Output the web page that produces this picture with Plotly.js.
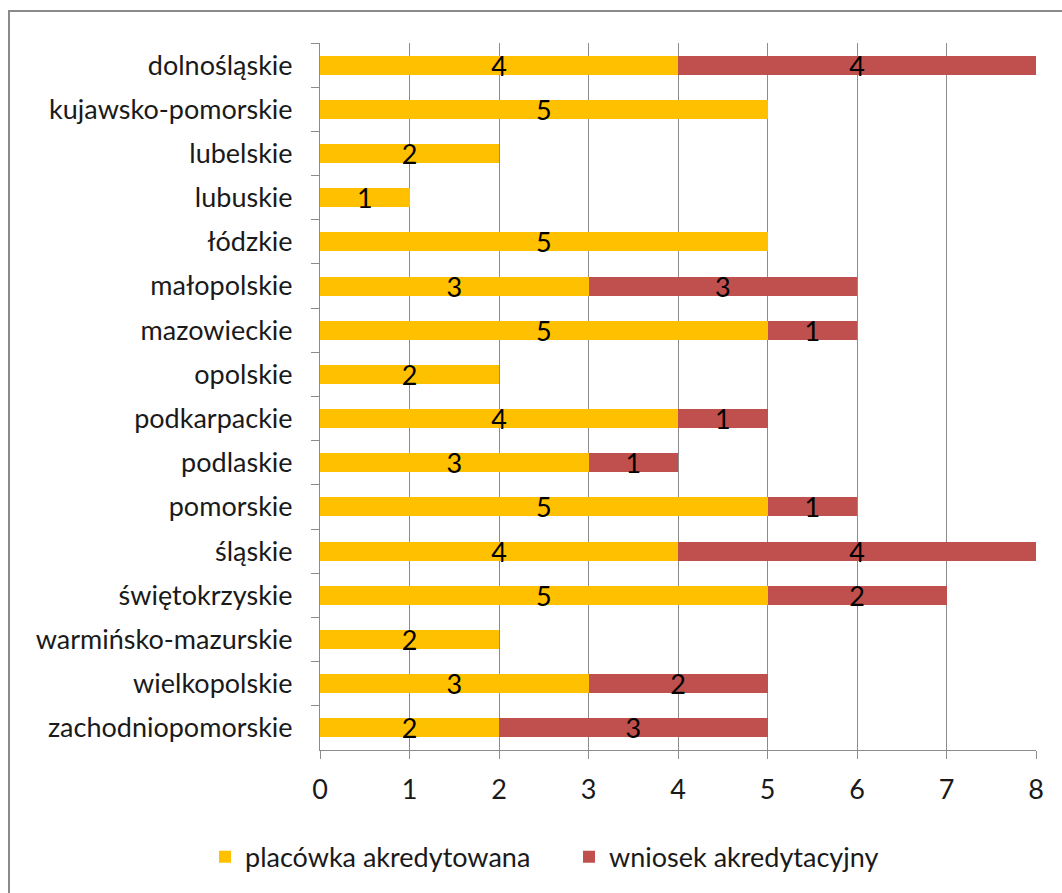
<!DOCTYPE html>
<html>
<head>
<meta charset="utf-8">
<script src="https://cdn.plot.ly/plotly-3.0.1.min.js"></script>
<style>
html,body{margin:0;padding:0;background:#fff;overflow:hidden;}
#frame{position:absolute;left:8px;top:10px;width:1100px;height:950px;border:2px solid #8a8a8a;box-sizing:border-box;}
#chart{position:absolute;left:0;top:0;width:1062px;height:893px;}
</style>
</head>
<body>
<div id="frame"></div>
<div id="chart"></div>
<script>
const categories = ["dolnośląskie","kujawsko-pomorskie","lubelskie","lubuskie","łódzkie","małopolskie","mazowieckie","opolskie","podkarpackie","podlaskie","pomorskie","śląskie","świętokrzyskie","warmińsko-mazurskie","wielkopolskie","zachodniopomorskie"];
const placowka = [4,5,2,1,5,3,5,2,4,3,5,4,5,2,3,2];
const wniosek = [4,null,null,null,null,3,1,null,1,1,1,4,2,null,2,3];
const seriesNames = ["placówka akredytowana","wniosek akredytacyjny"];
const xTicks = [0,1,2,3,4,5,6,7,8];

const font = "Lato, 'Open Sans', sans-serif";
const FS = 27;
const common = {
  type:'bar', orientation:'h', y:categories,
  texttemplate:'%{x}', textposition:'inside', insidetextanchor:'middle',
  textangle:0, constraintext:'none', cliponaxis:false,
  textfont:{family:font, size:FS, color:'#000'},
  hoverinfo:'x+y'
};
const data = [
  Object.assign({}, common, {name:seriesNames[0], x:placowka, marker:{color:'#FFC000'}}),
  Object.assign({}, common, {name:seriesNames[1], x:wniosek, marker:{color:'#C0504D'}})
];
const layout = {
  width:1062, height:893,
  paper_bgcolor:'rgba(0,0,0,0)', plot_bgcolor:'rgba(0,0,0,0)',
  barmode:'stack', bargap:0.57,
  margin:{l:320, r:26, t:43, b:142},
  font:{family:font, size:FS, color:'#1a1a1a'},
  xaxis:{range:[0,8], tickvals:xTicks, showgrid:true, gridcolor:'#8c8c8c', gridwidth:1,
    showline:true, linecolor:'#8c8c8c', linewidth:1, ticks:'outside', ticklen:8, tickcolor:'#8c8c8c',
    zeroline:false, tickfont:{family:font, size:FS, color:'#1a1a1a'}, ticklabelstandoff:8, fixedrange:true},
  yaxis:{autorange:'reversed', type:'category', showline:true, linecolor:'#8c8c8c', linewidth:1,
    ticks:'outside', ticklen:8, tickcolor:'#8c8c8c', tickson:'boundaries', showgrid:false,
    tickfont:{family:font, size:FS, color:'#1a1a1a'}, ticklabelstandoff:21, fixedrange:true},
  showlegend:true,
  legend:{orientation:'h', x:-0.1606, xanchor:'left', y:-0.15, yanchor:'middle',
    font:{family:font, size:FS, color:'#1a1a1a'}, itemwidth:30, entrywidth:319, traceorder:'normal'},
};
Plotly.newPlot('chart', data, layout, {displayModeBar:false, staticPlot:true});
</script>
</body>
</html>
